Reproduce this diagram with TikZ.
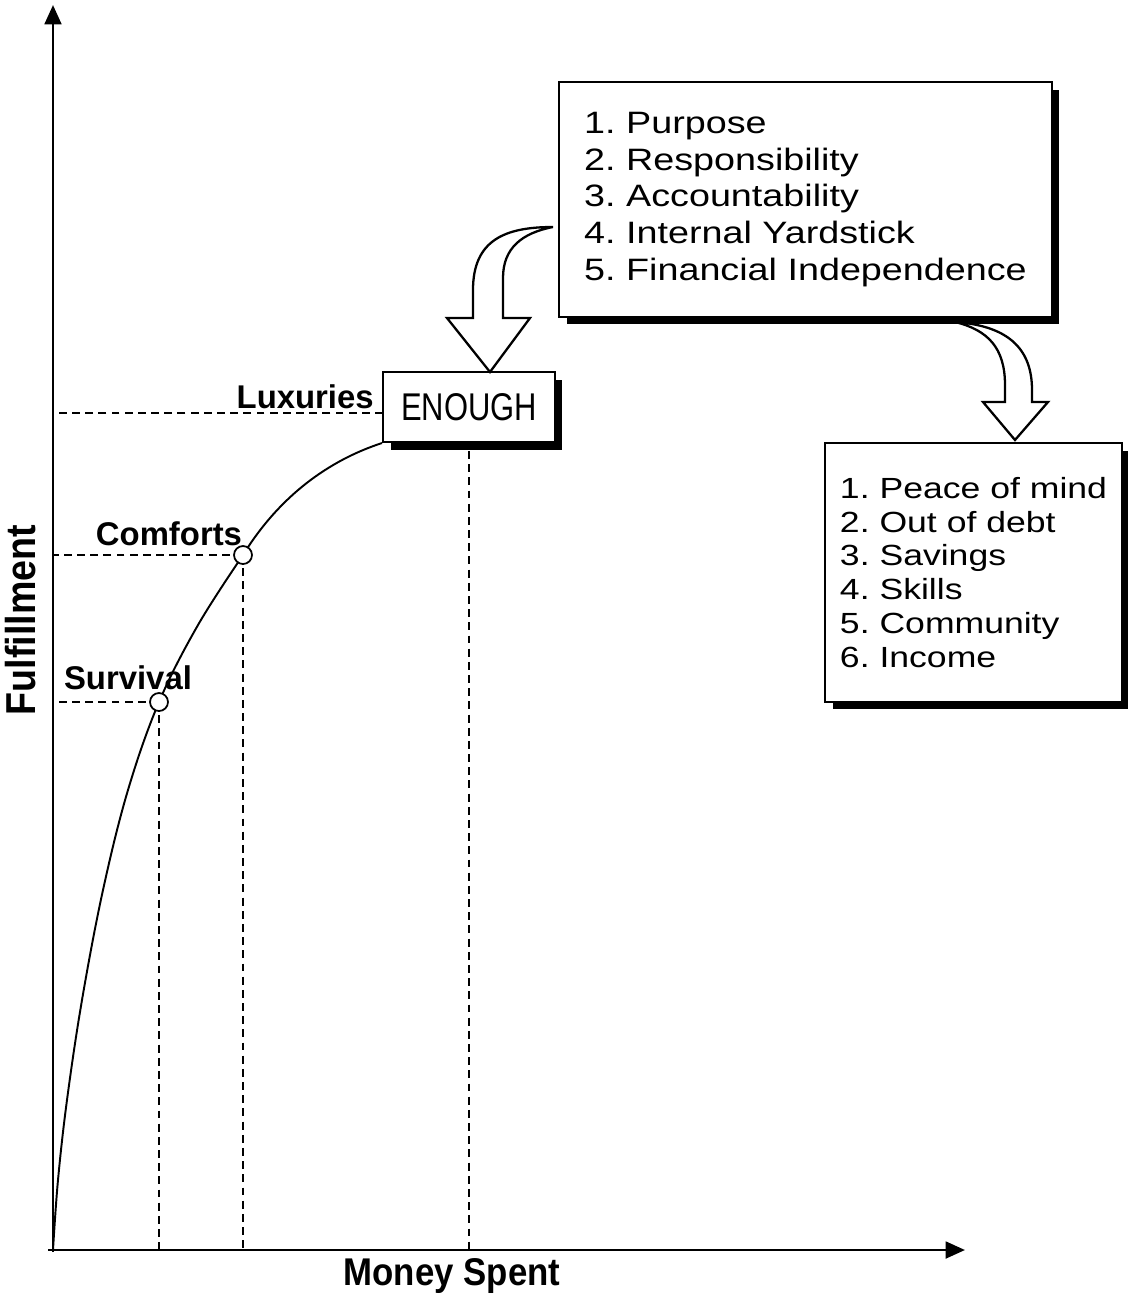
\documentclass[tikz,border=0pt]{standalone}
\usepackage{fontspec}
\setmainfont{Liberation Sans}
\newfontfamily\listfont[FakeStretch=1.22]{Liberation Sans}
\newfontfamily\narrowfont[FakeStretch=0.8]{Liberation Sans}
\newfontfamily\axisfont[FakeStretch=0.9]{Liberation Sans}
\usetikzlibrary{arrows.meta,shadows}

\begin{document}
\frenchspacing
\begin{tikzpicture}[x=0.02cm,y=-0.02cm]
  \tikzstyle{axis}=[line width=1.6pt,-{Triangle[length=11pt,width=9.5pt]}]
  \tikzstyle{guide}=[line width=0.8pt,dash pattern=on 4.5pt off 3pt]
  \tikzstyle{curve}=[line width=1.1pt]
  \tikzstyle{dot}=[circle,draw,fill=white,line width=1pt,minimum size=0.36cm,inner sep=0pt]
  \tikzstyle{levelname}=[font=\fontsize{18.7}{22}\selectfont\bfseries,inner sep=0pt]
  \tikzstyle{shadowbox}=[draw,fill=white,line width=1.2pt,
    general shadow={fill=black,shadow xshift=0.15cm,shadow yshift=-0.15cm}]
  \tikzstyle{bentarrow}=[draw,fill=white,line width=1.3pt,line join=miter]
  \useasboundingbox (0,0) rectangle (1127,1299);

  % axes
  \coordinate (O) at (53,1250);
  \coordinate (ytop) at (53,5);
  \coordinate (xend) at (965,1250);
  \draw[axis] (53,1252) -- (ytop);
  \draw[axis] (48,1250) -- (xend);
  \node[rotate=90,font=\axisfont\fontsize{23.8}{26}\selectfont\bfseries] (fulfil) at (21,620) {Fulfillment};
  \node[font=\axisfont\fontsize{22}{26}\selectfont\bfseries] (spent) at (452,1276) {Money Spent};

  % levels on the curve
  \coordinate (surv) at (159,702);
  \coordinate (comf) at (243,555);
  \coordinate (lux) at (383,413);
  \node[shadowbox,minimum width=3.44cm,minimum height=1.4cm,inner sep=0pt,
        font=\narrowfont\fontsize{22}{26}\selectfont] (enough) at (469,407) {ENOUGH};

  \draw[guide] (surv) -- (surv -| O);
  \draw[guide] (surv) -- (surv |- O);
  \draw[guide] (comf) -- (comf -| O);
  \draw[guide] (comf) -- (comf |- O);
  \draw[guide] (lux) -- (lux -| O);
  \draw[guide] (enough.south) ++(0,8) -- (enough.south |- O);

  \draw[curve] plot[smooth,tension=0.6] coordinates {(O) (58,1180) (67,1100) (82,1000)
    (103,890) (128,790) (surv) (198,625) (comf)}
    .. controls (280,495) and (330,460) .. (enough.south west);
  \node[dot] (survdot) at (surv) {};
  \node[dot] (comfdot) at (comf) {};

  \node[levelname] at (128,678) {Survival};
  \node[levelname] at (169,534) {Comforts};
  \node[levelname,anchor=east] at (374,397) {Luxuries};

  % curved arrows between the boxes
  \draw[bentarrow] (553,227) .. controls (505,227) and (473,240) .. (473,290)
    -- (473,318) -- (447,318) -- (490,372) -- (530,318) -- (503,318) -- (503,278)
    .. controls (503,248) and (522,233) .. (553,227) -- cycle;
  \draw[bentarrow] (955,322) .. controls (1012,326) and (1032,352) .. (1032,390)
    -- (1032,402) -- (1048,402) -- (1015,440) -- (983,402) -- (1005,402) -- (1005,385)
    .. controls (1005,348) and (988,330) .. (955,322) -- cycle;

  % the two lists
  \node[shadowbox,minimum width=9.86cm,minimum height=4.7cm,inner sep=0pt,
        align=left,font=\listfont\fontsize{17.6}{21}\selectfont]
        (habits) at (805.5,199.5)
        {1. Purpose\\2. Responsibility\\3. Accountability\\4. Internal Yardstick\\5. Financial Independence};
  \node[shadowbox,minimum width=5.94cm,minimum height=5.18cm,inner sep=0pt,
        align=left,font=\listfont\fontsize{16.6}{19.3}\selectfont]
        (gains) at (973.5,572.5)
        {1. Peace of mind\\2. Out of debt\\3. Savings\\4. Skills\\5. Community\\6. Income};
\end{tikzpicture}
\end{document}
